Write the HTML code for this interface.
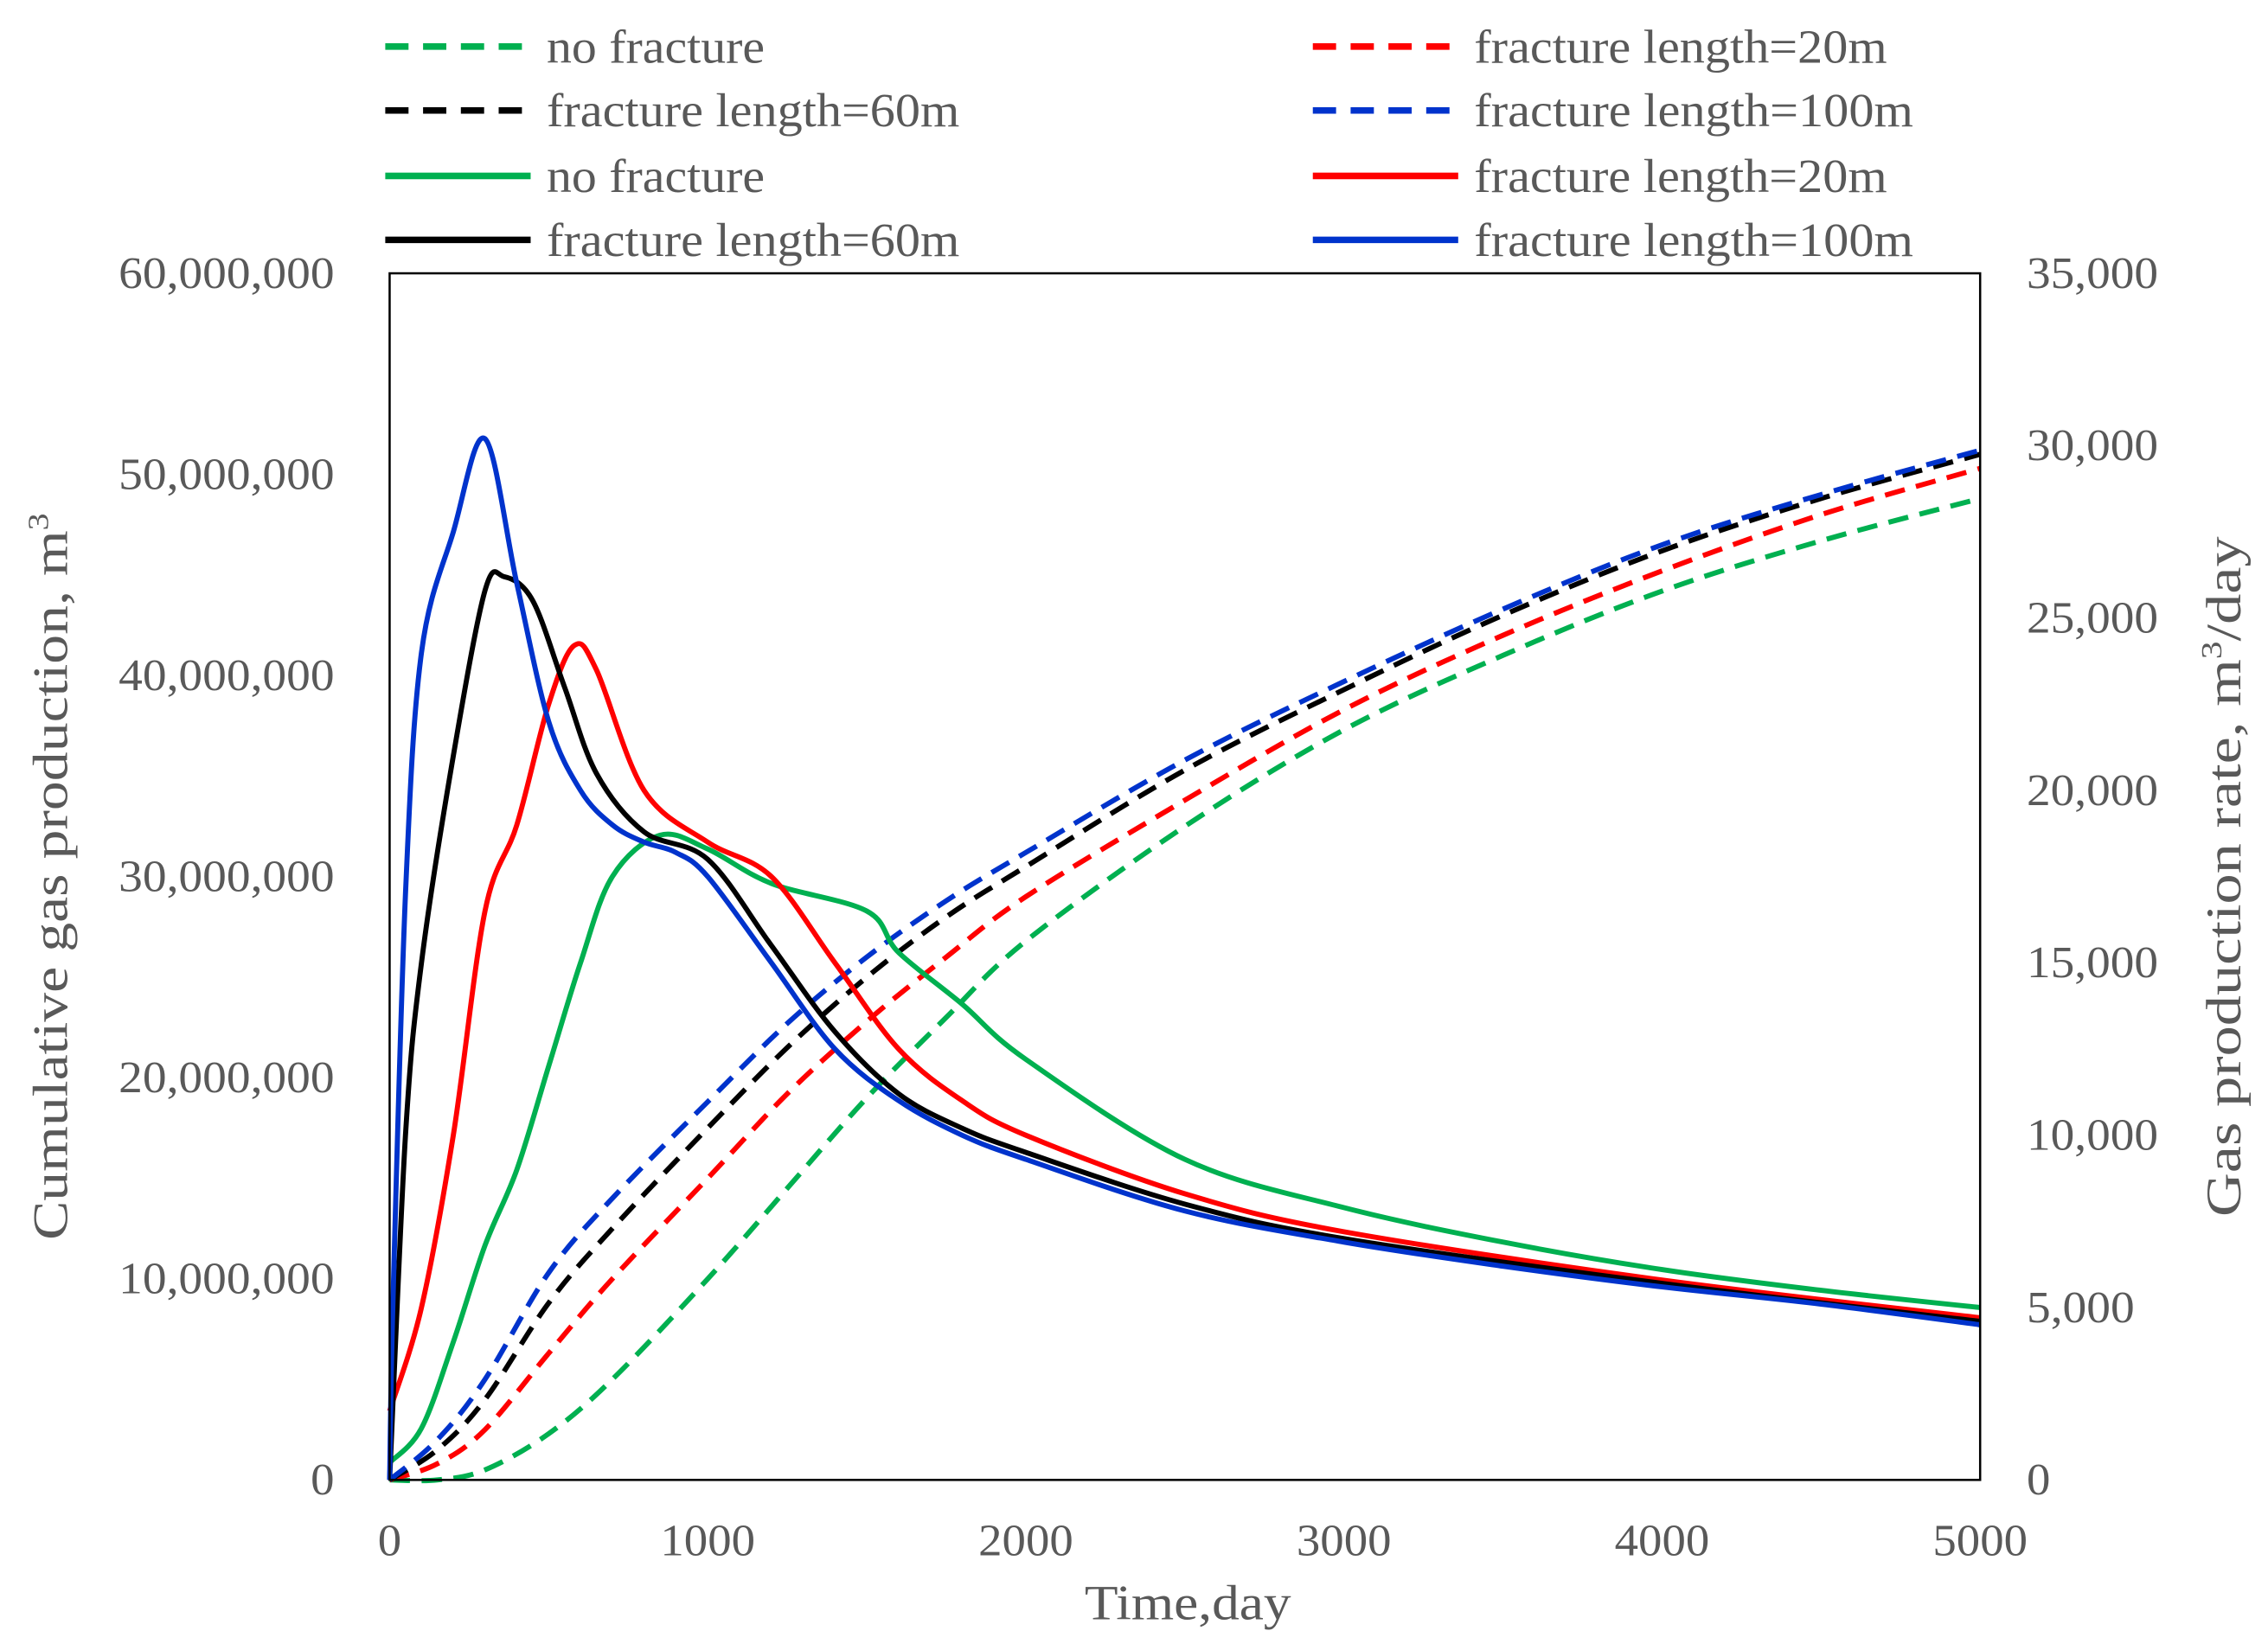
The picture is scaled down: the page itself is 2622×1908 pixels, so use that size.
<!DOCTYPE html>
<html><head><meta charset="utf-8"><style>
html,body{margin:0;padding:0;background:#fff;}
svg{display:block;}
text{font-family:"Liberation Serif",serif;fill:#595959;}
</style></head><body>
<svg id="chart" width="2622" height="1908" viewBox="0 0 1560 1135" preserveAspectRatio="none" xmlns="http://www.w3.org/2000/svg">
<rect width="1560" height="1135" fill="#fff"/>
<g id="legend"></g>
<g id="axes"></g>
<g id="series"></g>
<rect x="268" y="188" width="1094" height="830" fill="none" stroke="#000" stroke-width="1.5"/>
<text x="817" y="1114" font-size="34" text-anchor="middle" textLength="142" lengthAdjust="spacingAndGlyphs">Time,day</text>
<text transform="translate(46,603) rotate(-90)" font-size="34" text-anchor="middle" textLength="500" lengthAdjust="spacingAndGlyphs">Cumulative gas production, m<tspan font-size="20" dy="-13">3</tspan></text>
<text transform="translate(1541,603) rotate(-90)" font-size="34" text-anchor="middle" textLength="468" lengthAdjust="spacingAndGlyphs">Gas production rate, m<tspan font-size="20" dy="-13">3</tspan><tspan dy="13">/day</tspan></text>
</svg>
<script>
const xTicks=[0,1000,2000,3000,4000,5000];
const leftTicks=[0,10000000,20000000,30000000,40000000,50000000,60000000];
const rightTicks=[0,5000,10000,15000,20000,25000,30000,35000];
// cumulative (millions m3)
const cumT=[0,150,300,500,700,1000,1250,1500,1750,2000,2500,3000,3500,4000,4500,5000];
const cumNoFrac=[0,0,0.5,2.3,5,10,14.5,19,23,26.8,32.5,37.3,41,44.2,46.7,48.8];
const cum20=[0,0.8,2.5,6.3,10,15,19.2,22.8,26,29,33.8,38.3,42,45.2,48,50.3];
const cum60=[0,1.5,4,8.8,12.5,17.5,21.5,25,28,30.5,35.3,39.3,43,46.2,48.8,51];
const cum100=[0,2,5,10.3,14,18.8,22.7,26,28.8,31.2,35.8,39.7,43.3,46.5,49,51.2];
// rates (thousand m3/day)
const rateNoFracT=[0,100,200,300,400,500,600,700,850,1000,1200,1500,1600,1800,2000,2500,3000,3500,4000,4500,5000];
const rateNoFrac=[0.5,1.5,4,6.8,9,12,15,17.5,18.7,18.3,17.3,16.5,15.3,13.8,12.2,9.3,7.9,6.9,6.1,5.5,5.0];
const rate20T=[0,100,200,300,400,500,580,650,800,1000,1200,1400,1600,1800,2000,2500,3000,4000,5000];
const rate20=[2,5,10,16.5,19,22.5,24.2,23.5,20,18.5,17.5,15,12.5,11,10,8.3,7.2,5.8,4.7];
const rate60T=[0,50,100,200,300,360,450,550,650,800,1000,1200,1400,1600,1800,2000,2500,3000,4000,5000];
const rate60=[0,10,15,21,25.8,26.2,25.5,23,20.5,18.8,18,15.5,13,11.2,10.2,9.5,8,7,5.7,4.6];
const rate100T=[0,10,50,100,200,300,400,500,600,700,800,900,1000,1200,1400,1600,1800,2000,2500,3000,3500,4000,4500,5000];
const rate100=[0,5,17,24,27.5,30.2,26,22,20,19,18.5,18.2,17.5,15,12.5,11,10,9.3,7.8,6.9,6.2,5.6,5.1,4.5];

const X0=268,X1=1362,Y0=1018,Y1=188;
const xs=t=>X0+t/5000*(X1-X0);
const yl=v=>Y0-v/60*(Y0-Y1);
const yr=v=>Y0-v/35*(Y0-Y1);
const NS="http://www.w3.org/2000/svg";
function mk(tag,attrs,parent){const e=document.createElementNS(NS,tag);for(const k in attrs)e.setAttribute(k,attrs[k]);parent.appendChild(e);return e;}
const axes=document.getElementById('axes'),ser=document.getElementById('series'),leg=document.getElementById('legend');
const fmt=n=>n.toLocaleString('en-US');
xTicks.forEach(t=>{const s=String(t);const e=mk('text',{x:xs(t),y:1070,'font-size':31,'text-anchor':'middle',textLength:s.length*16.3,lengthAdjust:'spacingAndGlyphs'},axes);e.textContent=s;

});
leftTicks.forEach(v=>{const s=fmt(v);const w=s.replace(/,/g,'').length*16.3+(s.split(',').length-1)*9;const e=mk('text',{x:230,y:yl(v/1e6)+10,'font-size':31,'text-anchor':'end',textLength:w,lengthAdjust:'spacingAndGlyphs'},axes);e.textContent=s;

});
rightTicks.forEach(v=>{const s=fmt(v);const w=s.replace(/,/g,'').length*16.3+(s.split(',').length-1)*9;const e=mk('text',{x:1394,y:yr(v/1000)+10,'font-size':31,'text-anchor':'start',textLength:w,lengthAdjust:'spacingAndGlyphs'},axes);e.textContent=s;

});
function smooth(P){
  let d='M'+P[0][0].toFixed(1)+','+P[0][1].toFixed(1);
  for(let i=0;i<P.length-1;i++){
    const p0=P[Math.max(0,i-1)],p1=P[i],p2=P[i+1],p3=P[Math.min(P.length-1,i+2)];
    const c1=[p1[0]+(p2[0]-p0[0])/6,p1[1]+(p2[1]-p0[1])/6];
    const c2=[p2[0]-(p3[0]-p1[0])/6,p2[1]-(p3[1]-p1[1])/6];
    d+=' C'+c1[0].toFixed(1)+','+c1[1].toFixed(1)+' '+c2[0].toFixed(1)+','+c2[1].toFixed(1)+' '+p2[0].toFixed(1)+','+p2[1].toFixed(1);
  }
  return d;
}
function line(T,V,yf,color,dash,name){
  const P=T.map((t,i)=>[xs(t),yf(V[i])]);
  const p=mk('path',{d:smooth(P),fill:'none',stroke:color,'stroke-width':3.5,'stroke-linejoin':'round'},ser);
  if(dash)p.setAttribute('stroke-dasharray','14 8');
  
  
}
const G='#00b050',R='#ff0000',K='#000000',B='#0033cc';
line(cumT,cumNoFrac,yl,G,true,'cumulative-no-fracture');
line(cumT,cum20,yl,R,true,'cumulative-20m');
line(cumT,cum60,yl,K,true,'cumulative-60m');
line(cumT,cum100,yl,B,true,'cumulative-100m');
line(rateNoFracT,rateNoFrac,yr,G,false,'rate-no-fracture');
line(rate20T,rate20,yr,R,false,'rate-20m');
line(rate60T,rate60,yr,K,false,'rate-60m');
line(rate100T,rate100,yr,B,false,'rate-100m');
const legItems=[[265,32,G,true,'no fracture',150],[903,32,R,true,'fracture length=20m',284],[265,76,K,true,'fracture length=60m',284],[903,76,B,true,'fracture length=100m',302],[265,121,G,false,'no fracture',150],[903,121,R,false,'fracture length=20m',284],[265,165,K,false,'fracture length=60m',284],[903,165,B,false,'fracture length=100m',302]];
legItems.forEach(it=>{
  const g=mk('g',{},leg);
  
  
  const l=mk('line',{x1:it[0],x2:it[0]+100,y1:it[1],y2:it[1],stroke:it[2],'stroke-width':4.5},g);
  if(it[3])l.setAttribute('stroke-dasharray','16 10');
  const t=mk('text',{x:it[0]+111,y:it[1]+11,'font-size':33,textLength:it[5],lengthAdjust:'spacingAndGlyphs'},g);t.textContent=it[4];
});
</script>
</body></html>
